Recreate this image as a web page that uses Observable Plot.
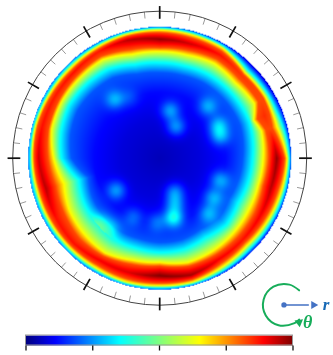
<!DOCTYPE html>
<html><head><meta charset="utf-8">
<script src="https://cdn.jsdelivr.net/npm/d3@7"></script>
<script src="https://cdn.jsdelivr.net/npm/@observablehq/plot@0.6"></script>
<style>html,body{margin:0;padding:0;background:#fff;overflow:hidden}#c{position:relative;width:333px;height:355px}svg{display:block;filter:blur(.5px);position:absolute;left:0}</style>
</head><body><div id="c"></div>
<script>
// Polar profile of the field (angle clockwise from north, radius as a fraction of the disc)
const profileAngles=[0,15,30,45,60,68,75,90,105,120,135,150,165,180,195,210,225,240,255,270,285,300,315,330,345];
const rCyan   =[.73,.73,.74,.74,.74,.74,.73,.71,.70,.69,.72,.70,.72,.72,.71,.71,.69,.67,.64,.75,.78,.80,.795,.785,.74];
const rYellow =[.81,.81,.83,.81,.83,.77,.80,.785,.775,.78,.795,.81,.82,.79,.80,.83,.81,.79,.75,.805,.85,.86,.86,.865,.815];
const rRed    =[.84,.85,.87,.855,.865,.80,.835,.83,.815,.835,.845,.85,.85,.82,.835,.86,.865,.84,.82,.85,.875,.885,.89,.895,.855];
const rPeak   =[.905,.90,.91,.885,.885,.86,.865,.89,.875,.88,.885,.89,.92,.893,.90,.90,.92,.91,.895,.92,.925,.925,.925,.935,.93];
const peakVal =[.98,.93,.88,.84,.82,.85,.82,.98,.95,.90,.88,.90,.97,1,.92,.90,.88,.88,.95,.93,.88,.87,.88,.87,.95];
const rRedOut =[.955,.945,.94,.90,.91,.90,.885,.95,.93,.92,.91,.925,.955,.95,.95,.94,.945,.945,.945,.955,.96,.95,.945,.95,.96];
const rYelOut =[.975,.97,.965,.92,.93,.925,.925,.97,.96,.95,.94,.955,.975,.97,.975,.965,.965,.965,.965,.97,.975,.97,.965,.97,.975];
const rCyanOut=[.99,.985,.98,.945,.955,.955,.965,.985,.98,.975,.97,.98,.99,.985,.99,.985,.985,.985,.985,.985,.99,.985,.985,.985,.99];
const edgeVal =[.2,.18,.12,.05,.06,.1,.12,.18,.18,.12,.1,.12,.18,.2,.2,.18,.18,.2,.22,.22,.22,.2,.18,.18,.2];
// Light spots inside the blue core
const spotX=[-.34,-.23,.08,.125,.365,.445,.46,-.33,.115,.115,.11,.46,.41,.37,-.45,-.37,-.2,-.02,.10];
const spotY=[.445,.46,.36,.24,.39,.25,.17,-.245,-.26,-.35,-.45,-.17,-.30,-.42,-.49,-.53,-.45,-.49,-.46];
const spotV=[.14,.06,.16,.16,.14,.16,.16,.15,.15,.15,.15,.15,.15,.13,.12,.1,.09,.1,.1];
// Colour bar stops and ticks
const colorStops=[0,.11,.35,.5,.65,.89,1];
const colorRange=["#00007f","#0000ff","#00ffff","#7fff7f","#ffff00","#ff0000","#7f0000"];
const barTicks=[0,.25,.5,.75,1];
// Ring ticks (degrees)
const minorTicks=d3.range(0,360,6);
const majorTicks=d3.range(0,360,30);
// Rotation key
const keyArc=[46,15,-30,-75,-120,-165,-210,-226];
const keyCentre=[.945,-1.116], keyRadius=.16;
const keyArrow=[[.945,1.13],[-1.116,-1.116]];

const lerp=(a,b,t)=>a+(b-a)*t;
function field(x,y){
  const r=Math.hypot(x,y);
  if(r>1) return NaN;
  let th=(Math.atan2(x,y)*180/Math.PI+360)%360;
  let i=d3.bisectRight(profileAngles,th)-1;
  const j=(i+1)%profileAngles.length;
  const a0=profileAngles[i],a1=j?profileAngles[j]:360,t=(th-a0)/(a1-a0);
  const col=c=>lerp(c[i],c[j],t);
  const c=col(rCyan);
  const rs=[0,.3,.5,c-.08,c,col(rYellow),col(rRed),col(rPeak),col(rRedOut),col(rYelOut),col(rCyanOut),1.0001];
  const vs=[.05,.08,.115,.19,.36,.64,.82,col(peakVal),.82,.64,.36,col(edgeVal)];
  let k=d3.bisectRight(rs,r)-1; k=Math.min(k,rs.length-2);
  let v=lerp(vs[k],vs[k+1],(r-rs[k])/(rs[k+1]-rs[k]));
  for(let s=0;s<spotX.length;s++){
    const d2=(x-spotX[s])**2+(y-spotY[s])**2;
    v+=spotV[s]*Math.exp(-d2/(2*.05*.05))*(r<c?1:0.3);
  }
  return v;
}
const W=333,R=131.5,cx=159.2,cy=157.7,H1=355;
const ring=a=>[Math.sin(a*Math.PI/180),Math.cos(a*Math.PI/180)];
const colorScale={type:"linear",domain:colorStops,range:colorRange,clamp:true};
const tickLink=(angles,r1,r2,o)=>Plot.link(angles,{
  x1:a=>ring(a)[0]*r1,y1:a=>ring(a)[1]*r1,x2:a=>ring(a)[0]*r2,y2:a=>ring(a)[1]*r2,...o});
const main=Plot.plot({
  width:W,height:H1,margin:0,
  x:{domain:[-cx/R,(W-cx)/R],range:[0,W],axis:null},
  y:{domain:[(cy-H1)/R,cy/R],range:[H1,0],axis:null},
  color:colorScale,
  marks:[
    Plot.raster({fill:field,x1:-1,x2:1,y1:-1,y2:1,pixelSize:1}),
    tickLink(minorTicks,1.068,1.118,{stroke:"#999",strokeWidth:1}),
    Plot.dot([0],{x:0,y:0,r:147,stroke:"#444",strokeWidth:1,fill:"none"}),
    tickLink(majorTicks,1.06,1.157,{stroke:"#111",strokeWidth:1.7}),
    Plot.line(keyArc,{x:a=>keyCentre[0]+ring(a)[0]*keyRadius,y:a=>keyCentre[1]+ring(a)[1]*keyRadius,curve:"catmull-rom",stroke:"#17ad5a",strokeWidth:2}),
    Plot.dot([0],{x:[1.06],y:[-1.248],symbol:"triangle",r:3.2,rotate:52,fill:"#17ad5a"}),
    Plot.line([0,1],{x:i=>keyArrow[0][i],y:i=>keyArrow[1][i],stroke:"#4472c4",strokeWidth:1.6,markerStart:"dot"}),
    Plot.dot([0],{x:[1.17],y:[-1.116],symbol:"triangle",r:3,rotate:90,fill:"#4472c4"}),
    Plot.text(["r"],{x:[1.265],y:[-1.116],fill:"#1769b5",fontFamily:"Liberation Serif",fontStyle:"italic",fontWeight:"bold",fontSize:17}),
    Plot.text(["θ"],{x:[1.125],y:[-1.245],fill:"#17ad5a",fontFamily:"Liberation Serif",fontStyle:"italic",fontWeight:"bold",fontSize:18})
  ]
});
const bar=Plot.plot({
  width:W,height:30,marginTop:10,marginBottom:5,marginLeft:25.5,marginRight:W-292.5,
  x:{domain:[0,1],axis:null},
  y:{domain:[-.5,1],axis:null},
  color:colorScale,
  marks:[
    Plot.raster({fill:(x,y)=>x,x1:0,x2:1,y1:0,y2:1,pixelSize:1}),
    Plot.rect([0],{x1:0,x2:1,y1:0,y2:1,stroke:"#999",fill:"none"}),
    Plot.link(barTicks,{x1:d=>d,x2:d=>d,y1:0,y2:-.5,stroke:"#111",strokeWidth:1.3})
  ]
});
bar.style.top="325px";main.style.top="0";
document.getElementById("c").append(main,bar);
</script></body></html>
